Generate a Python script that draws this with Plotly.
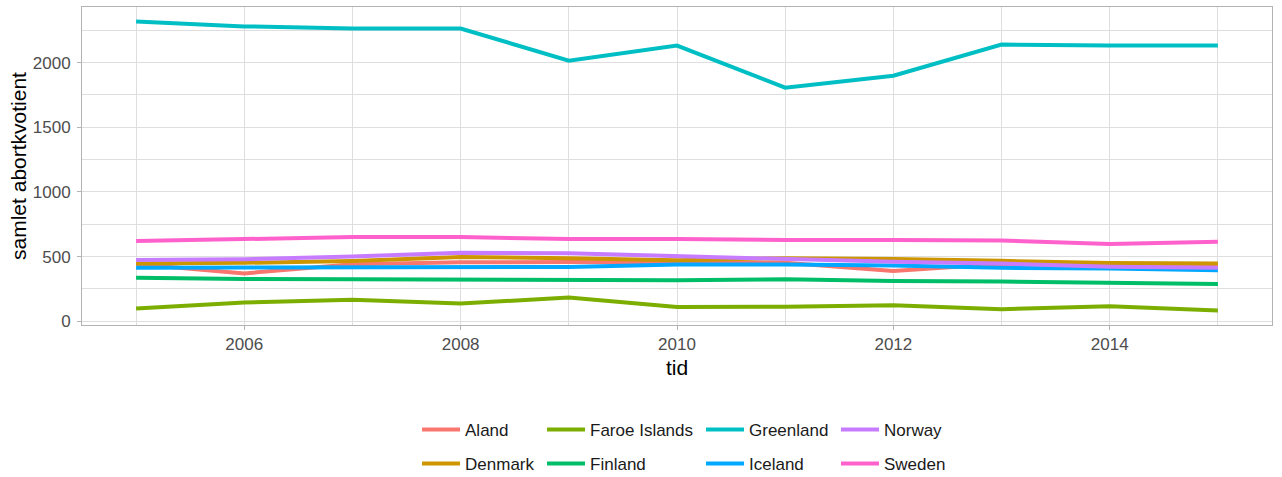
import plotly.graph_objects as go

years = list(range(2005, 2016))

aland = [442, 370, 440, 456, 458, 457, 452, 388, 444, 440, 435]
denmark = [447, 452, 465, 496, 488, 472, 488, 482, 467, 450, 447]
faroe = [98, 145, 166, 137, 183, 110, 113, 124, 93, 116, 83]
finland = [336, 326, 325, 323, 320, 318, 325, 312, 307, 297, 289]
greenland = [2318, 2280, 2264, 2264, 2015, 2132, 1806, 1899, 2140, 2132, 2132]
iceland = [413, 413, 414, 418, 420, 439, 439, 431, 413, 408, 395]
norway = [473, 480, 500, 530, 525, 504, 481, 460, 447, 421, 413]
sweden = [620, 636, 651, 651, 636, 636, 628, 628, 625, 597, 615]

series_names = ["Aland", "Denmark", "Faroe Islands", "Finland",
                "Greenland", "Iceland", "Norway", "Sweden"]
series_values = [aland, denmark, faroe, finland, greenland, iceland, norway, sweden]
colors = ["#F8766D", "#CD9600", "#7CAE00", "#00BE67",
          "#00BFC4", "#00A9FF", "#C77CFF", "#FF61CC"]

x_title = "tid"
y_title = "samlet abortkvotient"

# legend slot positions (column-major, 2 rows x 4 cols) in container coords
legend_pos = [
    (0.3253, 0.0985), (0.3253, 0.0273),
    (0.4228, 0.0985), (0.4228, 0.0273),
    (0.5468, 0.0985), (0.5468, 0.0273),
    (0.6521, 0.0985), (0.6521, 0.0273),
]

FONT = "Liberation Sans, Arial, sans-serif"

fig = go.Figure()
layout_legends = {}
for i, (name, vals, col) in enumerate(zip(series_names, series_values, colors)):
    lname = "legend" if i == 0 else f"legend{i+1}"
    fig.add_trace(go.Scatter(
        x=years, y=vals, mode="lines", name=name,
        line=dict(color=col, width=4),
        legend=lname,
    ))
    lx, ly = legend_pos[i]
    layout_legends[lname] = dict(
        x=lx, y=ly, xref="container", yref="container",
        xanchor="left", yanchor="middle",
        orientation="v", bgcolor="rgba(0,0,0,0)",
        font=dict(size=17, color="#1A1A1A", family=FONT),
        itemwidth=38, borderwidth=0,
    )

grid = "#DEDEDE"
border = "#B3B3B3"

fig.update_layout(
    width=1282, height=477,
    margin=dict(l=82, r=10, t=7, b=152, autoexpand=False),
    paper_bgcolor="white", plot_bgcolor="white",
    font=dict(family=FONT, color="#4D4D4D"),
    showlegend=True,
    annotations=[
        dict(text=x_title, xref="paper", yref="paper", x=0.5, y=-0.135,
             xanchor="center", yanchor="middle", showarrow=False,
             font=dict(size=21, color="black", family=FONT)),
        dict(text=y_title, xref="paper", yref="paper", x=-0.0538, y=0.5,
             xanchor="center", yanchor="middle", showarrow=False, textangle=-90,
             font=dict(size=21, color="black", family=FONT)),
    ],
    **layout_legends,
)

fig.update_xaxes(
    range=[2004.5, 2015.5],
    tickmode="linear", tick0=2006, dtick=2,
    showgrid=True, gridcolor=grid, gridwidth=1,
    minor=dict(tick0=2005, dtick=1, showgrid=True, gridcolor=grid, gridwidth=0.5),
    showline=True, mirror=True, linecolor=border, linewidth=1,
    ticks="outside", ticklen=4, tickcolor=border, tickwidth=1,
    tickfont=dict(size=17, color="#4D4D4D"),
    zeroline=False,
)
fig.update_yaxes(
    range=[-29, 2430],
    tickmode="linear", tick0=0, dtick=500,
    showgrid=True, gridcolor=grid, gridwidth=1,
    minor=dict(tick0=0, dtick=250, showgrid=True, gridcolor=grid, gridwidth=0.5),
    showline=True, mirror=True, linecolor=border, linewidth=1,
    ticks="outside", ticklen=4, tickcolor=border, tickwidth=1,
    tickfont=dict(size=17, color="#4D4D4D"),
    ticklabelstandoff=3,
    zeroline=False,
)

fig.write_html("out.html", config={"displayModeBar": False},
               post_script="document.body.style.margin='0';")
